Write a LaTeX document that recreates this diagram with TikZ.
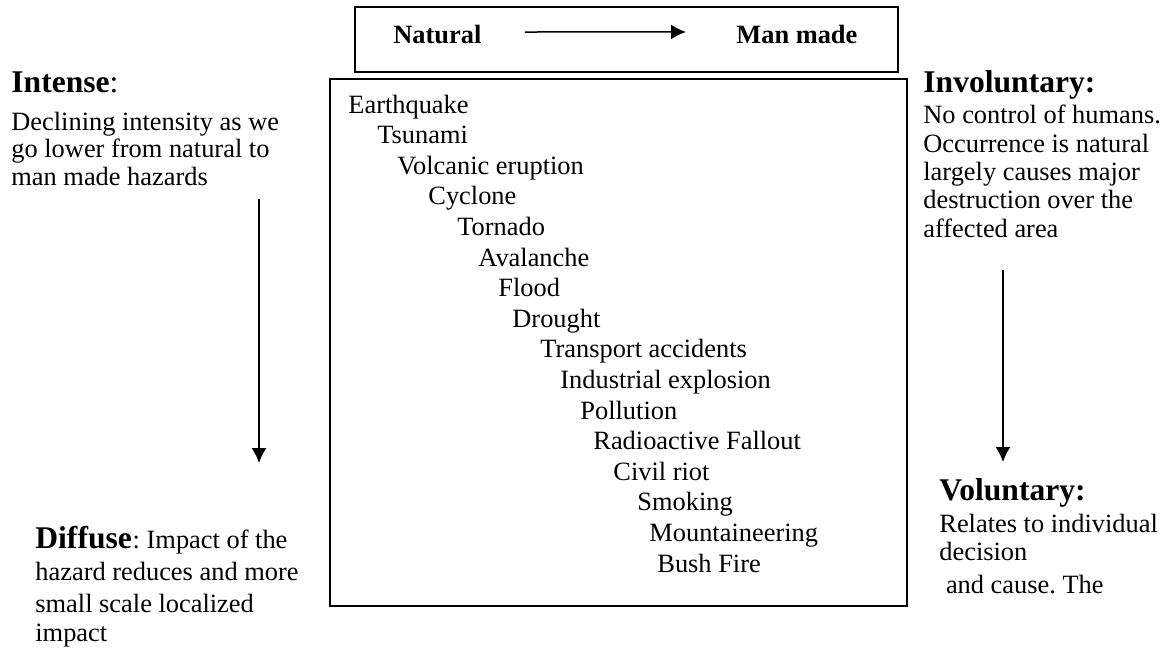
\documentclass[tikz,border=0pt]{standalone}
\usepackage{fontspec}
\setmainfont{Liberation Serif}
\frenchspacing
\usetikzlibrary{arrows.meta,positioning}
\newcommand{\bodyfont}{\fontsize{13.2pt}{15pt}\selectfont}
\newcommand{\headfont}{\fontsize{15.8pt}{18pt}\selectfont\bfseries}
\tikzstyle{frame} = [draw, line width=1pt, inner sep=0pt]
\tikzstyle{txt} = [anchor=base west, inner sep=0pt, font=\bodyfont]
\tikzstyle{head} = [anchor=base west, inner sep=0pt, font=\headfont]
\tikzstyle{arrow} = [line width=0.75pt, -{Latex[length=7.5pt,width=7.5pt]}]

\begin{document}
\begin{tikzpicture}[x=0.5pt, y=-0.5pt]
    \useasboundingbox (0,0) rectangle (1169,648);

    % Scale box
    \node[frame, minimum width=271.5pt, minimum height=32.5pt] (scalebox) at (626.5,39.5) {};
    \node[txt, font=\bodyfont\bfseries] (natural) at (393,43) {Natural};
    \node[txt, font=\bodyfont\bfseries] (manmade) at (736,43) {Man made};
    \draw[arrow] ([shift={(21.5pt,1pt)}]natural.east) -- ([shift={(-25pt,1pt)}]manmade.west);

    % Hazard list
    \node[frame, minimum width=288.5pt, minimum height=263.5pt] (listbox) at (618.5,342.5) {};
    \foreach \x/\name [count=\i from 0] in {348/Earthquake, 377/Tsunami, 397/Volcanic eruption,
        428/Cyclone, 457/Tornado, 478/Avalanche, 498/Flood, 512/Drought,
        540/Transport accidents, 560/Industrial explosion, 580/Pollution,
        593/Radioactive Fallout, 613/Civil riot, 637/Smoking, 649/Mountaineering, 657/Bush Fire}
        \node[txt] (hazard\i) at (\x,{113+30.6*\i}) {\name};

    % Left side: intense to diffuse
    \node[head] (intense) at (11,92) {Intense\textmd{:}};
    \foreach \y/\line [count=\i] in {130/Declining intensity as we, 157/go lower from natural to,
        185/man made hazards}
        \node[txt] (intense\i) at (11,\y) {\line};
    \coordinate (intensetop) at (259,199);
    \coordinate (intensebot) at (259,463);
    \draw[arrow] (intensetop) -- (intensebot);

    \node[head] (diffuse) at (35,548) {Diffuse};
    \node[txt] (diffusetxt) at (diffuse.base east) {: Impact of the};
    \foreach \y/\line [count=\i] in {580/hazard reduces and more, 612/small scale localized, 641/impact}
        \node[txt] (diffuse\i) at (35,\y) {\line};

    % Right side: involuntary to voluntary
    \node[head] (involuntary) at (923,92) {Involuntary:};
    \foreach \y/\line [count=\i] in {123/No control of humans., 152/Occurrence is natural,
        180/largely causes major, 208/destruction over the, 237/affected area}
        \node[txt] (involuntary\i) at (923,\y) {\line};
    \coordinate (involtop) at (1003,270);
    \coordinate (involbot) at (1003,462);
    \draw[arrow] (involtop) -- (involbot);

    \node[head] (voluntary) at (939,500) {Voluntary:};
    \foreach \y/\line [count=\i] in {532/Relates to individual, 560/decision, 593/\ and cause. The}
        \node[txt] (voluntary\i) at (939,\y) {\line};
\end{tikzpicture}
\end{document}
